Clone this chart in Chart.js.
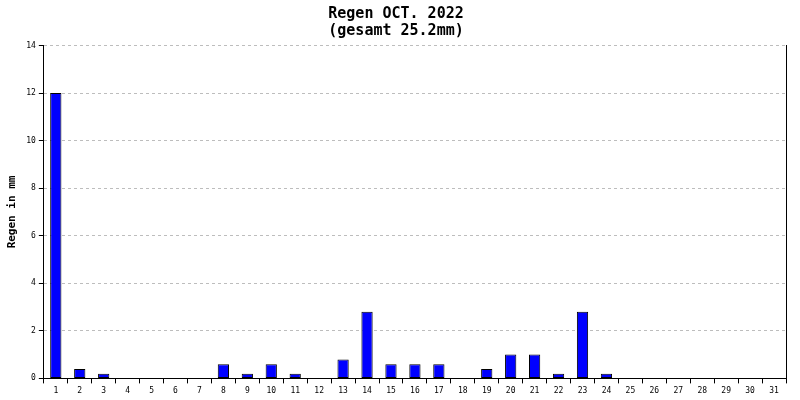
<!DOCTYPE html>
<html>
<head>
<meta charset="utf-8">
<script src="https://cdn.jsdelivr.net/npm/chart.js@4/dist/chart.umd.min.js"></script>
<style>
html,body{margin:0;padding:0;background:#fff}
#wrap{width:800px;height:400px;position:relative}
</style>
</head>
<body>
<div id="wrap"><canvas id="chart-rain"></canvas></div>
<script>
// ── Data: Regen Oktober 2022 (mm pro Tag) ──
const days=['1','2','3','4','5','6','7','8','9','10','11','12','13','14','15','16','17','18','19','20','21','22','23','24','25','26','27','28','29','30','31'];
const rain=[12,0.4,0.2,0,0,0,0,0.6,0.2,0.6,0.2,0,0.8,2.8,0.6,0.6,0.6,0,0.4,1.0,1.0,0.2,2.8,0.2,0,0,0,0,0,0,0];
const titleLines=['Regen OCT. 2022','(gesamt 25.2mm)'];
const yTitle='Regen in mm';

const MONO='"DejaVu Sans Mono","Liberation Mono",monospace';

new Chart(document.getElementById('chart-rain'),{type:'bar',
  data:{labels:days,datasets:[
    {label:'Regen',data:rain,backgroundColor:'#0000ff',borderColor:'#000',borderWidth:1,
     borderSkipped:false,barPercentage:0.47,categoryPercentage:1}
  ]},
  options:{responsive:true,maintainAspectRatio:false,animation:false,
    layout:{padding:{left:6,right:14,top:0,bottom:1}},
    plugins:{legend:{display:false},tooltip:{enabled:false},
      title:{display:true,text:titleLines,color:'#000',font:{family:MONO,size:15,weight:'bold',lineHeight:1.15},
        padding:{top:5,bottom:6}}},
    scales:{
      x:{grid:{offset:true,drawOnChartArea:false,color:'#000',tickLength:5,tickWidth:1},
        border:{color:'#000',width:1},
        ticks:{color:'#000',font:{family:MONO,size:8},padding:3,autoSkip:false,maxRotation:0}},
      y:{min:0,max:14,
        // dashed grey grid, solid black tick marks
        grid:{color:'#bdbdbd',tickColor:'#000',tickLength:5,tickBorderDash:[]},
        border:{color:'#000',width:1,dash:[3,3]},
        ticks:{stepSize:2,color:'#000',font:{family:MONO,size:8},padding:3},
        title:{display:true,text:yTitle,color:'#000',font:{family:MONO,size:11,weight:'bold'},padding:{top:0,bottom:4}}},
      y2:{position:'right',min:0,max:14,
        grid:{drawOnChartArea:false,drawTicks:false},
        border:{color:'#000',width:1},
        ticks:{display:false}}
    }}
});
</script>
</body>
</html>
